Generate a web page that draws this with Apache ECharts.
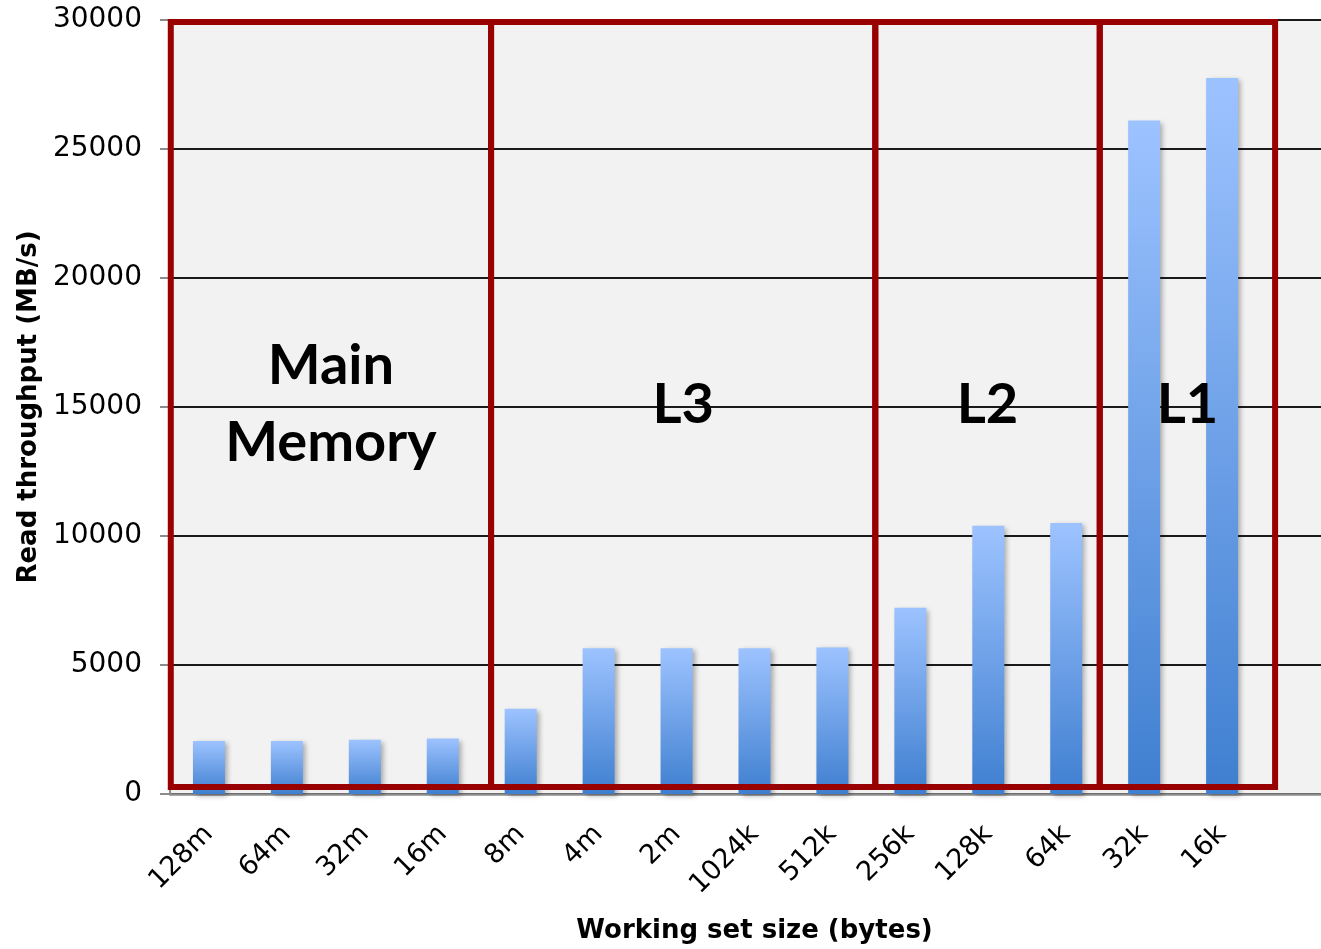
<!DOCTYPE html>
<html>
<head>
<meta charset="utf-8">
<style>
  html, body { margin: 0; padding: 0; background: #fff; overflow: hidden; }
  #chart { width: 1339px; height: 949px; }
</style>
<script src="https://cdn.jsdelivr.net/npm/echarts@6/dist/echarts.min.js"></script>
</head>
<body>
<div id="chart"></div>
<script>
  // working set sizes, last slot is an empty category
  const categories = ['128m', '64m', '32m', '16m', '8m', '4m', '2m', '1024k', '512k',
    '256k', '128k', '64k', '32k', '16k', ''];
  const throughput = [2050, 2050, 2100, 2150, 3300, 5650, 5650, 5650, 5680,
    7220, 10400, 10500, 26100, 27750];
  const yTicks = [0, 5000, 10000, 15000, 20000, 25000, 30000];

  // cache regions, in category units along x, and MB/s along y
  const regionNames = ['Main\nMemory', 'L3', 'L2', 'L1'];
  const regionStart = [0.01, 4.12, 9.05, 11.93];
  const regionEnd = [4.12, 9.05, 11.93, 14.18];
  const regionBottom = [270, 270, 270, 270];
  const regionTop = [29920, 29920, 29920, 29920];

  const regionData = regionNames.map((n, i) => [regionStart[i], regionEnd[i], regionBottom[i], regionTop[i]]);

  // the plot runs past the right edge of the window, the picture is cut there
  const chart = echarts.init(document.getElementById('chart'));

  const barColor = new echarts.graphic.LinearGradient(0, 0, 0, 1, [
    { offset: 0, color: '#9dc3ff' },
    { offset: 1, color: '#3f7fd0' }
  ]);

  chart.setOption({
    animation: false,
    grid: {
      left: 170,
      top: 20,
      bottom: 152,
      right: 0,
      show: true,
      backgroundColor: '#f2f2f2',
      borderWidth: 0,
      containLabel: false
    },
    xAxis: [
      {
        type: 'category',
        data: categories,
        axisLine: { lineStyle: { color: '#8c8c8c', width: 2.5 } },
        axisTick: { length: 10, lineStyle: { color: '#8c8c8c', width: 2 } },
        axisLabel: {
          rotate: 45,
          margin: 36,
          interval: 0,
          color: '#000',
          fontFamily: 'DejaVu Sans',
          fontSize: 27
        },
        name: 'Working set size (bytes)',
        nameLocation: 'middle',
        nameGap: 124,
        nameTextStyle: {
          color: '#000',
          fontFamily: 'DejaVu Sans',
          fontWeight: 'bold',
          fontSize: 26
        }
      },
      {
        type: 'value',
        min: 0,
        max: categories.length,
        show: false
      }
    ],
    yAxis: {
      type: 'value',
      min: yTicks[0],
      max: yTicks[yTicks.length - 1],
      interval: yTicks[1] - yTicks[0],
      axisLine: { show: true, lineStyle: { color: '#8c8c8c', width: 2 } },
      axisTick: { show: true, length: 10, lineStyle: { color: '#8c8c8c', width: 2 } },
      splitLine: { lineStyle: { color: '#1a1a1a', width: 1.8 } },
      axisLabel: {
        margin: 28,
        color: '#000',
        fontFamily: 'DejaVu Sans',
        fontSize: 28,
        formatter: v => String(v)
      },
      name: 'Read throughput (MB/s)',
      nameLocation: 'middle',
      nameGap: 120,
      nameTextStyle: {
        color: '#000',
        fontFamily: 'DejaVu Sans',
        fontWeight: 'bold',
        fontSize: 26
      }
    },
    series: [
      {
        type: 'bar',
        data: throughput,
        barWidth: 32,
        z: 2,
        itemStyle: {
          color: barColor,
          shadowColor: 'rgba(0, 0, 0, 0.3)',
          shadowBlur: 5,
          shadowOffsetX: 3,
          shadowOffsetY: 2
        }
      },
      {
        type: 'custom',
        xAxisIndex: 1,
        yAxisIndex: 0,
        z: 5,
        data: regionData,
        renderItem: function (params, api) {
          const p0 = api.coord([api.value(0), api.value(3)]);
          const p1 = api.coord([api.value(1), api.value(2)]);
          return {
            type: 'group',
            children: [
              {
                type: 'rect',
                shape: { x: p0[0], y: p0[1], width: p1[0] - p0[0], height: p1[1] - p0[1] },
                style: { fill: 'none', stroke: '#990000', lineWidth: 6 }
              },
              {
                type: 'text',
                x: (p0[0] + p1[0]) / 2,
                y: (p0[1] + p1[1]) / 2,
                style: {
                  text: regionNames[params.dataIndex],
                  fill: '#000',
                  font: 'bold 56px Lato',
                  lineHeight: 77,
                  align: 'center',
                  verticalAlign: 'middle'
                }
              }
            ]
          };
        }
      }
    ]
  });
</script>
</body>
</html>
